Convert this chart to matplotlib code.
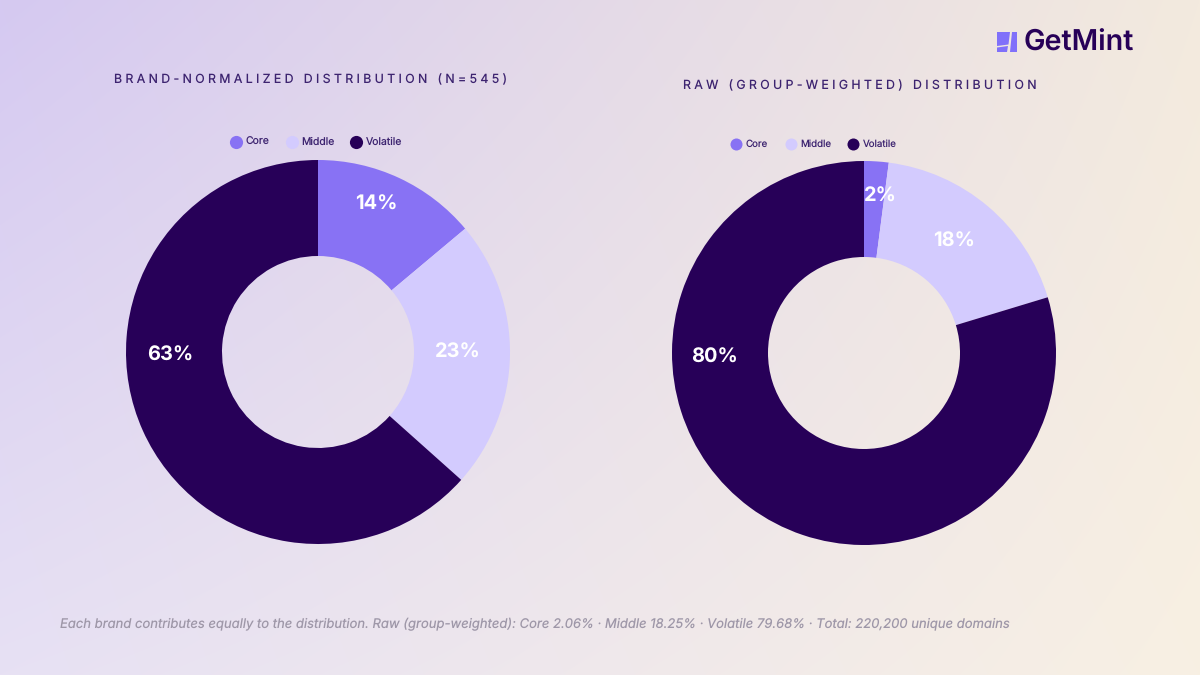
import numpy as np
import matplotlib
matplotlib.use('Agg')
import matplotlib.pyplot as plt
from matplotlib.patches import Polygon

plt.rcParams['font.family'] = ['Inter', 'DejaVu Sans']
plt.rcParams['text.hinting'] = 'no_hinting'
plt.rcParams['text.hinting_factor'] = 1

categories = ['Core', 'Middle', 'Volatile']
normalized_values = [13.9, 22.7, 63.4]
raw_values = [2.06, 18.25, 79.68]
normalized_labels = ['14%', '23%', '63%']
raw_labels = ['2%', '18%', '80%']
title_left = 'BRAND-NORMALIZED DISTRIBUTION (N=545)'
title_right = 'RAW (GROUP-WEIGHTED) DISTRIBUTION'
footnote = ('Each brand contributes equally to the distribution. Raw (group-weighted): '
            'Core 2.06% · Middle 18.25% · Volatile 79.68% · Total: 220,200 unique domains')

colors = ['#8872F4', '#D3CBFE', '#270058']
dark = '#270058'
logo_color = '#8070FA'
W, H = 1200, 675

fig = plt.figure(figsize=(12, 6.75), dpi=100)

# fondo degradado (esquinas)
bg = fig.add_axes([0, 0, 1, 1])
tl = np.array([0xD5, 0xC9, 0xF1]) / 255
tr = np.array([0xF3, 0xEA, 0xDE]) / 255
bl = np.array([0xE7, 0xE1, 0xF4]) / 255
br = np.array([0xF8, 0xF0, 0xE3]) / 255
xx, yy = np.meshgrid(np.linspace(0, 1, 1200), np.linspace(0, 1, 675))
xx = xx[..., None]
yy = yy[..., None]
img = (1 - xx) * (1 - yy) * tl + xx * (1 - yy) * tr + (1 - xx) * yy * bl + xx * yy * br
bg.imshow(img, extent=[0, W, H, 0], aspect='auto')
bg.set_xlim(0, W)
bg.set_ylim(H, 0)
bg.axis('off')

# capa de arriba para los textos
top = fig.add_axes([0, 0, 1, 1], zorder=5)
top.set_xlim(0, W)
top.set_ylim(H, 0)
top.axis('off')


def donut(cx, cy, r, values, labels, label_pos):
    ax = fig.add_axes([(cx - r) / W, 1 - (cy + r) / H, 2 * r / W, 2 * r / H], zorder=2)
    ax.pie(values, colors=colors, startangle=90, counterclock=False, radius=1,
           wedgeprops=dict(width=0.5, linewidth=0))
    ax.set_xlim(-1, 1)
    ax.set_ylim(-1, 1)
    ax.set_aspect('equal')
    for lab, (x, y) in zip(labels, label_pos):
        top.text(x, y, lab, color='white', fontsize=14.4, fontweight='bold',
                 ha='center', va='center')


def leyenda(xs_dot, xs_txt, y, size, fsize):
    for cat, col, xd, xt in zip(categories, colors, xs_dot, xs_txt):
        top.scatter([xd], [y], s=size, color=col, linewidths=0)
        top.text(xt, y + 0.5, cat, color='#3D2470', fontsize=fsize, ha='left', va='center')


donut(318, 352, 192, normalized_values, normalized_labels, [(376, 204), (458, 352), (170, 355)])
donut(864, 353, 192, raw_values, raw_labels, [(880, 196), (954, 241), (714, 357)])

# espaciado de letras con espacios finos
sep = '\u2009\u200a'
top.text(311, 80, sep.join(title_left), color='#3D2470', fontsize=8.9, ha='center', va='center')
top.text(859.5, 86, sep.join(title_right), color='#3D2470', fontsize=8.9, ha='center', va='center')

leyenda([236, 292, 356], [246, 301, 366], 141.5, 90, 7.5)
leyenda([736, 791, 853], [746, 800, 863], 143.5, 75, 7.0)

top.text(535, 624.5, footnote, color='#9E97A8', fontsize=9.4, style='italic', ha='center', va='center')

# logo
top.add_patch(Polygon([(997, 32), (1010, 32), (1008.5, 44.5), (997, 46)], color=logo_color, lw=0))
top.add_patch(Polygon([(997, 47.5), (1008, 46), (1007, 52), (997, 52)], color=logo_color, lw=0))
top.add_patch(Polygon([(1012, 32), (1017, 32), (1017, 52), (1009.5, 52)], color=logo_color, lw=0))
top.text(1024, 43, 'GetMint', color=dark, fontsize=20.7, fontweight='semibold', ha='left', va='center')

fig.savefig('out.png', dpi=100)
